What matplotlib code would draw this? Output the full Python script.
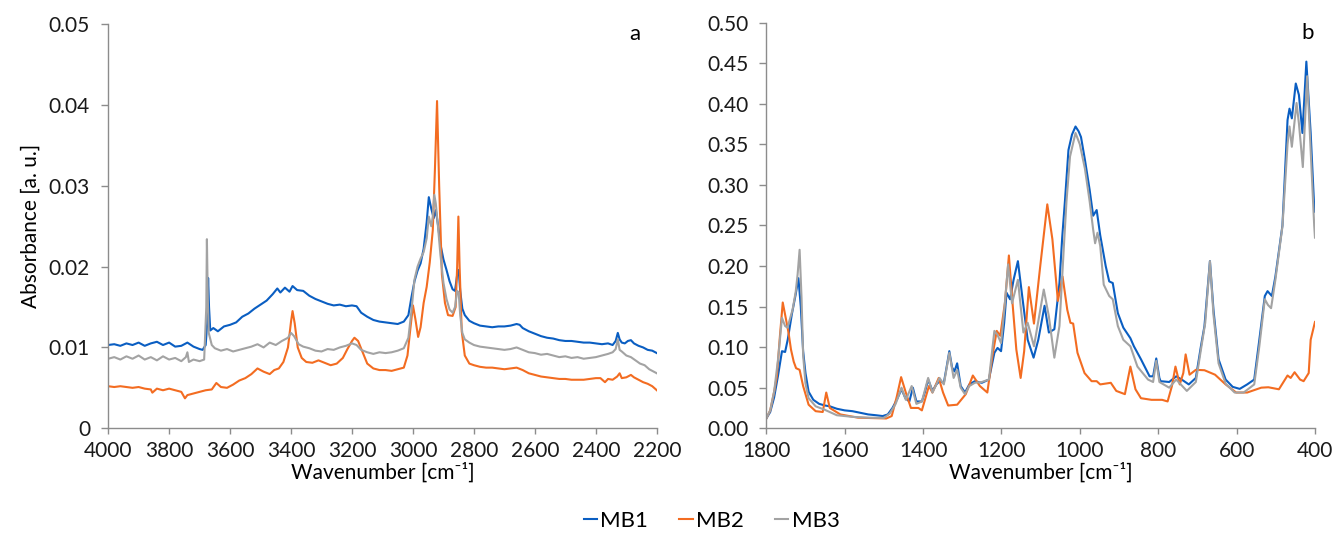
import matplotlib
matplotlib.use("Agg")
import matplotlib.pyplot as plt
from matplotlib.ticker import FixedLocator, FuncFormatter

plt.rcParams["font.family"] = ["Lato", "DejaVu Sans"]
plt.rcParams["font.size"] = 15

BLUE = "#0A5EC2"
ORANGE = "#F36C21"
GRAY = "#A3A3A3"
AXIS_GRAY = "#8C8C8C"

labels = ["MB1", "MB2", "MB3"]

# ---- high wavenumber region (a) ----
wn_a1 = [4000, 3980, 3960, 3940, 3920, 3900, 3880, 3860, 3840, 3820, 3800, 3780, 3760, 3740,
         3720, 3700, 3690, 3680, 3675, 3672, 3669, 3665, 3655, 3640, 3620, 3600, 3580, 3560,
         3540, 3520, 3500, 3480, 3460, 3445, 3435, 3420, 3405, 3395, 3380, 3360, 3340, 3320,
         3300, 3280, 3260, 3240, 3220, 3200, 3185, 3170, 3150, 3130, 3110, 3090, 3070, 3050,
         3030, 3015, 3005, 2995, 2985, 2975, 2965, 2955, 2948, 2940, 2932, 2925, 2918, 2910,
         2900, 2890, 2880, 2870, 2862, 2855, 2850, 2845, 2838, 2830, 2815, 2800, 2780, 2760,
         2740, 2720, 2700, 2680, 2660, 2650, 2640, 2620, 2600, 2580, 2560, 2540, 2520, 2500,
         2480, 2460, 2440, 2420, 2400, 2380, 2360, 2345, 2335, 2328, 2322, 2315, 2305, 2295,
         2285, 2275, 2260, 2245, 2230, 2215, 2200]
mb1_a = [0.0103, 0.0104, 0.0102, 0.0105, 0.0103, 0.0106, 0.0102, 0.0105, 0.0107, 0.0103, 0.0106,
         0.0101, 0.0102, 0.0106, 0.0101, 0.0098, 0.0097, 0.0103, 0.0130, 0.0186, 0.0150, 0.0121,
         0.0124, 0.0120, 0.0126, 0.0128, 0.0131, 0.0138, 0.0142, 0.0148, 0.0153, 0.0158, 0.0166,
         0.0173, 0.0168, 0.0174, 0.0169, 0.0176, 0.0171, 0.0170, 0.0164, 0.0160, 0.0157, 0.0154,
         0.0152, 0.0153, 0.0151, 0.0152, 0.0151, 0.0143, 0.0138, 0.0134, 0.0132, 0.0131, 0.0130,
         0.0129, 0.0132, 0.0140, 0.0162, 0.0182, 0.0195, 0.0204, 0.0222, 0.0255, 0.0286, 0.0272,
         0.0260, 0.0270, 0.0252, 0.0228, 0.0209, 0.0196, 0.0182, 0.0172, 0.0170, 0.0190, 0.0196,
         0.0170, 0.0148, 0.0140, 0.0133, 0.0130, 0.0127, 0.0126, 0.0125, 0.0126, 0.0126, 0.0127,
         0.0129, 0.0128, 0.0124, 0.0120, 0.0117, 0.0114, 0.0112, 0.0111, 0.0109, 0.0108, 0.0108,
         0.0107, 0.0106, 0.0106, 0.0105, 0.0104, 0.0105, 0.0103, 0.0108, 0.0118, 0.0110, 0.0106,
         0.0105, 0.0108, 0.0109, 0.0105, 0.0102, 0.0100, 0.0097, 0.0096, 0.0093]

wn_a2 = [4000, 3980, 3960, 3940, 3920, 3900, 3880, 3860, 3855, 3840, 3820, 3800, 3780, 3760,
         3748, 3740, 3720, 3700, 3680, 3660, 3645, 3630, 3610, 3590, 3570, 3550, 3530, 3510,
         3490, 3470, 3455, 3440, 3425, 3410, 3400, 3395, 3388, 3378, 3365, 3350, 3330, 3310,
         3290, 3270, 3250, 3230, 3215, 3200, 3192, 3180, 3165, 3150, 3130, 3110, 3090, 3070,
         3050, 3030, 3018, 3008, 3000, 2992, 2983, 2975, 2965, 2955, 2945, 2935, 2928, 2921,
         2914, 2905, 2895, 2885, 2870, 2860, 2855, 2851, 2847, 2840, 2830, 2815, 2800, 2780,
         2760, 2740, 2720, 2700, 2680, 2660, 2640, 2620, 2600, 2580, 2560, 2540, 2520, 2500,
         2480, 2460, 2440, 2420, 2400, 2385, 2370, 2360, 2345, 2330, 2322, 2315, 2300, 2285,
         2275, 2260, 2245, 2230, 2215, 2200]
mb2_a = [0.0052, 0.0051, 0.0052, 0.0051, 0.0050, 0.0051, 0.0049, 0.0048, 0.0044, 0.0049, 0.0047,
         0.0049, 0.0047, 0.0045, 0.0037, 0.0041, 0.0043, 0.0045, 0.0047, 0.0048, 0.0056, 0.0051,
         0.0050, 0.0054, 0.0059, 0.0062, 0.0067, 0.0074, 0.0070, 0.0067, 0.0072, 0.0074, 0.0082,
         0.0100, 0.0132, 0.0145, 0.0130, 0.0100, 0.0087, 0.0082, 0.0081, 0.0084, 0.0081, 0.0078,
         0.0080, 0.0087, 0.0098, 0.0108, 0.0112, 0.0108, 0.0094, 0.0080, 0.0074, 0.0072, 0.0072,
         0.0071, 0.0073, 0.0075, 0.0090, 0.0125, 0.0152, 0.0135, 0.0113, 0.0125, 0.0155, 0.0175,
         0.0205, 0.0245, 0.0320, 0.0405, 0.0300, 0.0190, 0.0155, 0.0140, 0.0139, 0.0150, 0.0200,
         0.0262, 0.0200, 0.0120, 0.0090, 0.0080, 0.0078, 0.0076, 0.0075, 0.0075, 0.0074, 0.0073,
         0.0074, 0.0075, 0.0072, 0.0068, 0.0066, 0.0064, 0.0063, 0.0062, 0.0061, 0.0061, 0.0060,
         0.0060, 0.0060, 0.0061, 0.0062, 0.0062, 0.0057, 0.0061, 0.0060, 0.0064, 0.0068, 0.0062,
         0.0063, 0.0066, 0.0063, 0.0060, 0.0057, 0.0055, 0.0052, 0.0047]

wn_a3 = [4000, 3980, 3960, 3940, 3920, 3900, 3880, 3860, 3840, 3820, 3800, 3780, 3760, 3745,
         3740, 3735, 3720, 3700, 3685, 3678, 3676, 3673, 3670, 3660, 3650, 3630, 3610, 3590,
         3570, 3550, 3530, 3510, 3490, 3470, 3450, 3430, 3410, 3400, 3390, 3375, 3360, 3340,
         3320, 3300, 3280, 3260, 3240, 3220, 3200, 3185, 3170, 3150, 3130, 3110, 3090, 3070,
         3050, 3030, 3015, 3005, 2995, 2985, 2975, 2965, 2955, 2948, 2940, 2935, 2930, 2925,
         2918, 2910, 2900, 2890, 2880, 2870, 2862, 2855, 2850, 2845, 2838, 2830, 2815, 2800,
         2780, 2760, 2740, 2720, 2700, 2680, 2660, 2640, 2620, 2600, 2580, 2560, 2540, 2520,
         2500, 2480, 2460, 2440, 2420, 2400, 2380, 2360, 2345, 2335, 2328, 2322, 2315, 2300,
         2285, 2270, 2255, 2240, 2225, 2210, 2200]
mb3_a = [0.0086, 0.0088, 0.0085, 0.0089, 0.0086, 0.0090, 0.0085, 0.0088, 0.0084, 0.0089, 0.0085,
         0.0087, 0.0083, 0.0088, 0.0094, 0.0082, 0.0085, 0.0083, 0.0085, 0.0150, 0.0234, 0.0160,
         0.0118, 0.0103, 0.0099, 0.0096, 0.0098, 0.0095, 0.0097, 0.0099, 0.0101, 0.0104, 0.0100,
         0.0106, 0.0103, 0.0108, 0.0112, 0.0118, 0.0114, 0.0104, 0.0101, 0.0099, 0.0096, 0.0095,
         0.0098, 0.0097, 0.0100, 0.0102, 0.0105, 0.0103, 0.0097, 0.0094, 0.0092, 0.0094, 0.0093,
         0.0094, 0.0096, 0.0099, 0.0112, 0.0145, 0.0184, 0.0200, 0.0210, 0.0218, 0.0235, 0.0262,
         0.0250, 0.0262, 0.0289, 0.0278, 0.0250, 0.0215, 0.0180, 0.0160, 0.0147, 0.0143, 0.0150,
         0.0170, 0.0168, 0.0140, 0.0118, 0.0110, 0.0106, 0.0103, 0.0101, 0.0100, 0.0099, 0.0098,
         0.0097, 0.0098, 0.0100, 0.0097, 0.0094, 0.0093, 0.0091, 0.0092, 0.0090, 0.0088, 0.0089,
         0.0087, 0.0088, 0.0086, 0.0087, 0.0088, 0.0090, 0.0092, 0.0094, 0.0098, 0.0110, 0.0097,
         0.0095, 0.0090, 0.0088, 0.0084, 0.0080, 0.0078, 0.0073, 0.0070, 0.0068]

# ---- fingerprint region (b) ----
wn_b1 = [1800, 1790, 1780, 1770, 1760, 1752, 1745, 1735, 1725, 1718, 1712, 1706, 1700, 1692,
         1680, 1665, 1650, 1638, 1620, 1600, 1580, 1560, 1540, 1520, 1503, 1490, 1478, 1467,
         1455, 1445, 1435, 1426, 1417, 1403, 1395, 1387, 1376, 1366, 1358, 1347, 1340, 1333,
         1326, 1320, 1313, 1304, 1293, 1282, 1268, 1250, 1232, 1218, 1210, 1201, 1193, 1187,
         1178, 1169, 1158, 1146, 1133, 1118, 1106, 1090, 1079, 1065, 1052, 1045, 1038, 1029,
         1020, 1011, 1003, 997, 987, 975, 966, 957, 948, 934, 925, 916, 903, 889, 871, 862, 844,
         822, 813, 805, 797, 794, 772, 754, 740, 722, 704, 691, 682, 668, 659, 646, 628, 610,
         592, 573, 555, 542, 528, 521, 510, 501, 483, 470, 465, 459, 449, 441, 432, 422, 411,
         402, 400]
mb1_b = [0.012, 0.020, 0.038, 0.065, 0.095, 0.094, 0.110, 0.140, 0.165, 0.185, 0.150, 0.095,
         0.068, 0.045, 0.035, 0.030, 0.028, 0.027, 0.024, 0.022, 0.021, 0.019, 0.017, 0.016,
         0.015, 0.017, 0.025, 0.035, 0.048, 0.037, 0.033, 0.050, 0.033, 0.033, 0.045, 0.060,
         0.046, 0.054, 0.058, 0.056, 0.075, 0.095, 0.075, 0.070, 0.080, 0.052, 0.044, 0.054,
         0.058, 0.056, 0.060, 0.093, 0.099, 0.095, 0.130, 0.167, 0.159, 0.183, 0.206, 0.159,
         0.109, 0.087, 0.109, 0.151, 0.118, 0.122, 0.179, 0.235, 0.280, 0.343, 0.362, 0.372,
         0.366, 0.359, 0.331, 0.294, 0.262, 0.269, 0.238, 0.200, 0.181, 0.179, 0.142, 0.124,
         0.111, 0.101, 0.085, 0.064, 0.064, 0.086, 0.062, 0.058, 0.057, 0.064, 0.060, 0.054,
         0.062, 0.101, 0.126, 0.206, 0.146, 0.085, 0.060, 0.051, 0.0485, 0.054, 0.060, 0.109,
         0.163, 0.169, 0.163, 0.187, 0.250, 0.380, 0.394, 0.382, 0.425, 0.411, 0.364, 0.452,
         0.364, 0.273, 0.267]

wn_b2 = [1800, 1790, 1780, 1773, 1765, 1758, 1750, 1743, 1737, 1730, 1724, 1715, 1706, 1692,
         1674, 1656, 1647, 1638, 1611, 1566, 1494, 1480, 1467, 1456, 1444, 1431, 1412, 1403,
         1385, 1376, 1360, 1349, 1336, 1313, 1291, 1273, 1255, 1236, 1223, 1212, 1203, 1191,
         1181, 1171, 1162, 1151, 1142, 1130, 1117, 1101, 1083, 1070, 1056, 1044, 1032, 1024,
         1017, 1006, 988, 970, 957, 948, 921, 907, 885, 871, 858, 844, 817, 790, 776, 765, 756,
         745, 736, 730, 720, 704, 682, 655, 628, 601, 573, 537, 519, 492, 470, 462, 452, 438,
         429, 416, 411, 400]
mb2_b = [0.012, 0.022, 0.045, 0.064, 0.115, 0.155, 0.135, 0.117, 0.097, 0.082, 0.074, 0.072,
         0.052, 0.029, 0.021, 0.020, 0.044, 0.025, 0.017, 0.013, 0.012, 0.015, 0.039, 0.063,
         0.044, 0.025, 0.025, 0.022, 0.052, 0.044, 0.062, 0.044, 0.028, 0.029, 0.042, 0.065,
         0.052, 0.044, 0.089, 0.120, 0.114, 0.155, 0.213, 0.150, 0.097, 0.062, 0.095, 0.174,
         0.129, 0.200, 0.276, 0.233, 0.157, 0.187, 0.146, 0.130, 0.129, 0.093, 0.068, 0.058,
         0.058, 0.054, 0.056, 0.046, 0.042, 0.076, 0.048, 0.037, 0.035, 0.035, 0.033, 0.052,
         0.076, 0.054, 0.068, 0.091, 0.066, 0.072, 0.0715, 0.066, 0.054, 0.044, 0.044, 0.050,
         0.0505, 0.048, 0.065, 0.062, 0.069, 0.060, 0.058, 0.068, 0.109, 0.131]

wn_b3 = [1800, 1790, 1780, 1770, 1760, 1752, 1746, 1733, 1725, 1720, 1715, 1710, 1706, 1700,
         1692, 1674, 1652, 1620, 1580, 1540, 1500, 1485, 1470, 1455, 1444, 1429, 1417, 1403,
         1387, 1376, 1358, 1347, 1333, 1322, 1313, 1304, 1293, 1282, 1268, 1250, 1232, 1218,
         1210, 1201, 1192, 1183, 1173, 1158, 1144, 1133, 1117, 1092, 1079, 1065, 1052, 1040,
         1034, 1025, 1011, 1000, 987, 975, 966, 961, 955, 948, 939, 925, 916, 903, 889, 871,
         853, 826, 813, 805, 797, 772, 754, 727, 704, 691, 680, 668, 659, 646, 628, 605, 582,
         555, 542, 528, 520, 512, 501, 483, 470, 465, 459, 447, 441, 431, 420, 409, 402, 400]
mb3_b = [0.012, 0.022, 0.045, 0.085, 0.136, 0.126, 0.124, 0.146, 0.168, 0.190, 0.220, 0.160,
         0.090, 0.055, 0.037, 0.027, 0.023, 0.016, 0.014, 0.013, 0.0127, 0.018, 0.030, 0.050,
         0.035, 0.052, 0.030, 0.033, 0.062, 0.044, 0.062, 0.054, 0.093, 0.062, 0.072, 0.050,
         0.042, 0.052, 0.056, 0.057, 0.060, 0.120, 0.115, 0.105, 0.150, 0.202, 0.154, 0.183,
         0.118, 0.130, 0.101, 0.171, 0.138, 0.087, 0.126, 0.230, 0.280, 0.335, 0.364, 0.350,
         0.320, 0.280, 0.245, 0.228, 0.241, 0.225, 0.177, 0.163, 0.159, 0.126, 0.109, 0.101,
         0.076, 0.060, 0.057, 0.083, 0.057, 0.050, 0.060, 0.046, 0.057, 0.097, 0.130, 0.206,
         0.140, 0.080, 0.055, 0.044, 0.044, 0.054, 0.101, 0.159, 0.152, 0.148, 0.183, 0.249,
         0.350, 0.372, 0.347, 0.401, 0.376, 0.322, 0.434, 0.322, 0.250, 0.235]

fig = plt.figure(figsize=(13.35, 5.4), dpi=100)
ax_a = fig.add_axes([0.081, 0.207, 0.411, 0.748])
ax_b = fig.add_axes([0.574, 0.207, 0.411, 0.751])

lw = 1.5
ax_a.plot(wn_a1, mb1_a, color=BLUE, lw=lw, label=labels[0])
ax_a.plot(wn_a2, mb2_a, color=ORANGE, lw=lw, label=labels[1])
ax_a.plot(wn_a3, mb3_a, color=GRAY, lw=lw, label=labels[2])

ax_b.plot(wn_b1, mb1_b, color=BLUE, lw=lw)
ax_b.plot(wn_b2, mb2_b, color=ORANGE, lw=lw)
ax_b.plot(wn_b3, mb3_b, color=GRAY, lw=lw)

ax_a.set_xlim(4000, 2200)
ax_a.set_ylim(0, 0.05)
ax_a.xaxis.set_major_locator(FixedLocator(range(4000, 2199, -200)))
ax_a.yaxis.set_major_locator(FixedLocator([0, 0.01, 0.02, 0.03, 0.04, 0.05]))
ax_a.yaxis.set_major_formatter(FuncFormatter(lambda v, p: "0" if v == 0 else f"{v:.2f}"))
ax_a.set_ylabel("Absorbance [a. u.]", labelpad=6)

ax_b.set_xlim(1800, 400)
ax_b.set_ylim(0, 0.5)
ax_b.xaxis.set_major_locator(FixedLocator(range(1800, 399, -200)))
ax_b.yaxis.set_major_locator(FixedLocator([i * 0.05 for i in range(11)]))
ax_b.yaxis.set_major_formatter(FuncFormatter(lambda v, p: f"{v:.2f}"))

for ax, tag, tx in [(ax_a, "a", 0.96), (ax_b, "b", 0.987)]:
    ax.set_xlabel("Wavenumber [cm\u207b\u00b9]", labelpad=1)
    for side in ("top", "right"):
        ax.spines[side].set_visible(False)
    for side in ("left", "bottom"):
        ax.spines[side].set_color(AXIS_GRAY)
        ax.spines[side].set_linewidth(1.0)
    ax.tick_params(axis="x", direction="out", length=4.5, width=1.0, color=AXIS_GRAY,
                   pad=5, labelcolor="#1a1a1a")
    ax.tick_params(axis="y", direction="out", length=5, width=1.0, color=AXIS_GRAY,
                   pad=8, labelcolor="#1a1a1a")
    ax.text(tx, 0.975, tag, transform=ax.transAxes, ha="center", va="center", fontsize=16)

fig.legend(loc="center", bbox_to_anchor=(0.533, 0.035), ncol=3, frameon=False,
           handlelength=0.6, handletextpad=0.15, columnspacing=1.4, fontsize=16)

fig.savefig("out.png", dpi=100)
